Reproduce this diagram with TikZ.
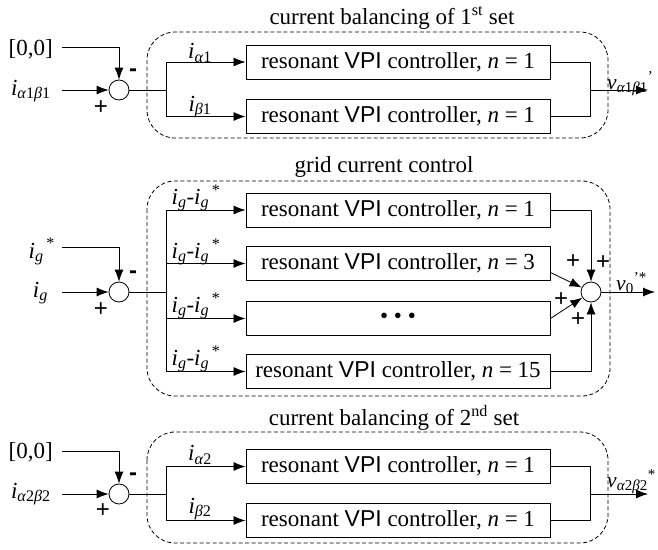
\documentclass[tikz,border=0pt]{standalone}
\usepackage{fontspec}
\setmainfont{Liberation Serif}
\newfontfamily\sansf{Liberation Sans}
\usetikzlibrary{arrows.meta}
\newcommand\igg{\textit{i}\textsubscript{\textit{g}}-\textit{i}\textsubscript{\textit{g}}\textsuperscript{\,*}}
\newcommand\vpi{resonant {\sansf VPI} controller, \textit{n} = }
\begin{document}
\begin{tikzpicture}[x=1pt,y=-1pt,
  every node/.style={font=\fontsize{23}{27}\selectfont},
  ctrl/.style={draw, line width=0.9pt, minimum width=304pt, minimum height=34pt, inner sep=0pt},
  sumc/.style={draw, circle, minimum size=20pt, inner sep=0pt, line width=0.8pt},
  grp/.style={draw, dashed, dash pattern=on 4pt off 2.5pt, rounded corners=28pt, line width=0.8pt},
  conn/.style={line width=0.8pt},
  arr/.style={conn, -{Latex[length=12pt,width=9pt]}},
  sig/.style={inner sep=0pt},
  outsig/.style={inner sep=0pt, anchor=base west, font=\fontsize{21.5}{25}\selectfont},
  sgn/.style={font=\sansf\fontsize{24}{28}\selectfont, inner sep=0pt}
]
\useasboundingbox (0,0) rectangle (658,549);

% ---------------- top: current balancing of 1st set
\draw[grp] (147,32) rectangle (608,138);
\node[sig] (t1) at (392,18) {current balancing of 1\textsuperscript{st} set};
\node[sig, anchor=base east] (z1) at (53,55) {[0,0]};
\coordinate (z1s) at (62,47);
\node[sig, anchor=base east] (ia1) at (51,95) {\textit{i}\textsubscript{\textit{α}1\textit{β}1}};
\coordinate (ia1s) at (62,90);
\node[sumc] (s1) at (119,90) {};
\draw[arr] (z1s) -| (s1.north);
\draw[arr] (ia1s) -- (s1.west);
\node[sgn] (m1s) at (133,73) {\bfseries -};
\node[sgn] (p1s) at (101,108) {+};
\coordinate (br1) at (166,90);
\draw[conn] (s1.east) -- (br1);
\node[ctrl] (b11) at (398,62) {\vpi 1};
\node[ctrl] (b12) at (398,116.5) {\vpi 1};
\draw[arr] (br1) |- (b11.west);
\draw[arr] (br1) |- (b12.west);
\node[sig] (la1) at (200,53) {\textit{i}\textsubscript{\textit{α}1}};
\node[sig] (lb1) at (200,107) {\textit{i}\textsubscript{\textit{β}1}};
\coordinate (mg1) at (590,90);
\coordinate (o1) at (648,90);
\draw[conn] (b11.east) -| (mg1);
\draw[conn] (b12.east) -| (mg1);
\draw[arr] (mg1) -- (o1);
\node[outsig] (v1) at (607,89) {\textit{v}\textsubscript{\textit{α}1\textit{β}1}\textsuperscript{'}};

% ---------------- middle: grid current control
\draw[grp] (147,181) rectangle (610,396);
\node[sig] (t2) at (384,167) {grid current control};
\node[sig, anchor=base east] (igs) at (55,258) {\textit{i}\textsubscript{\textit{g}}\textsuperscript{\,*}};
\coordinate (igss) at (62,247);
\node[sig, anchor=base east] (ig) at (48,297) {\textit{i}\textsubscript{\textit{g}}};
\coordinate (igs2) at (62,292);
\node[sumc] (s2) at (119,292) {};
\draw[arr] (igss) -| (s2.north);
\draw[arr] (igs2) -- (s2.west);
\node[sgn] (m2s) at (133,275) {\bfseries -};
\node[sgn] (p2s) at (101,310) {+};
\coordinate (br2) at (166,292);
\draw[conn] (s2.east) -- (br2);
\node[ctrl] (b21) at (398,210) {\vpi 1};
\node[ctrl] (b22) at (398,263.5) {\vpi 3};
\node[ctrl] (b23) at (398,318.5) {• • •};
\node[ctrl] (b24) at (398,371.5) {\vpi 15};
\draw[arr] (br2) |- (b21.west);
\draw[arr] (br2) |- (b22.west);
\draw[arr] (br2) |- (b23.west);
\draw[arr] (br2) |- (b24.west);
\node[sig] (l21) at (196,198) {\igg};
\node[sig] (l22) at (196,252) {\igg};
\node[sig] (l23) at (196,306) {\igg};
\node[sig] (l24) at (196,359) {\igg};
\node[sumc] (s3) at (591,292) {};
\draw[arr] (b21.east) -| (s3.north);
\draw[arr] (b24.east) -| (s3.south);
\draw[arr] ([yshift=-9pt]b22.east) -- (s3);
\draw[arr] (b23.east) -- (s3);
\node[sgn] (q1) at (603,263) {+};
\node[sgn] (q2) at (573,262) {+};
\node[sgn] (q3) at (561,300) {+};
\node[sgn] (q4) at (578,320) {+};
\coordinate (o2) at (655,292);
\draw[arr] (s3.east) -- (o2);
\node[outsig] (v2) at (616,290) {\textit{v}\textsubscript{0}\textsuperscript{'*}};

% ---------------- bottom: current balancing of 2nd set
\draw[grp] (147,432) rectangle (608,543);
\node[sig] (t3) at (394,418) {current balancing of 2\textsuperscript{nd} set};
\node[sig, anchor=base east] (z3) at (53,458) {[0,0]};
\coordinate (z3s) at (62,451);
\node[sig, anchor=base east] (ia2) at (51,498) {\textit{i}\textsubscript{\textit{α}2\textit{β}2}};
\coordinate (ia2s) at (62,494);
\node[sumc] (s4) at (119,494) {};
\draw[arr] (z3s) -| (s4.north);
\draw[arr] (ia2s) -- (s4.west);
\node[sgn] (m4s) at (133,477) {\bfseries -};
\node[sgn] (p4s) at (103,511) {+};
\coordinate (br3) at (166,494);
\draw[conn] (s4.east) -- (br3);
\node[ctrl] (b31) at (398,466.5) {\vpi 1};
\node[ctrl] (b32) at (398,520.5) {\vpi 1};
\draw[arr] (br3) |- (b31.west);
\draw[arr] (br3) |- (b32.west);
\node[sig] (la3) at (200,455) {\textit{i}\textsubscript{\textit{α}2}};
\node[sig] (lb3) at (200,509) {\textit{i}\textsubscript{\textit{β}2}};
\coordinate (mg3) at (590,494);
\coordinate (o3) at (648,494);
\draw[conn] (b31.east) -| (mg3);
\draw[conn] (b32.east) -| (mg3);
\draw[arr] (mg3) -- (o3);
\node[outsig] (v3) at (607,487) {\textit{v}\textsubscript{\textit{α}2\textit{β}2}\textsuperscript{*}};
\end{tikzpicture}
\end{document}
